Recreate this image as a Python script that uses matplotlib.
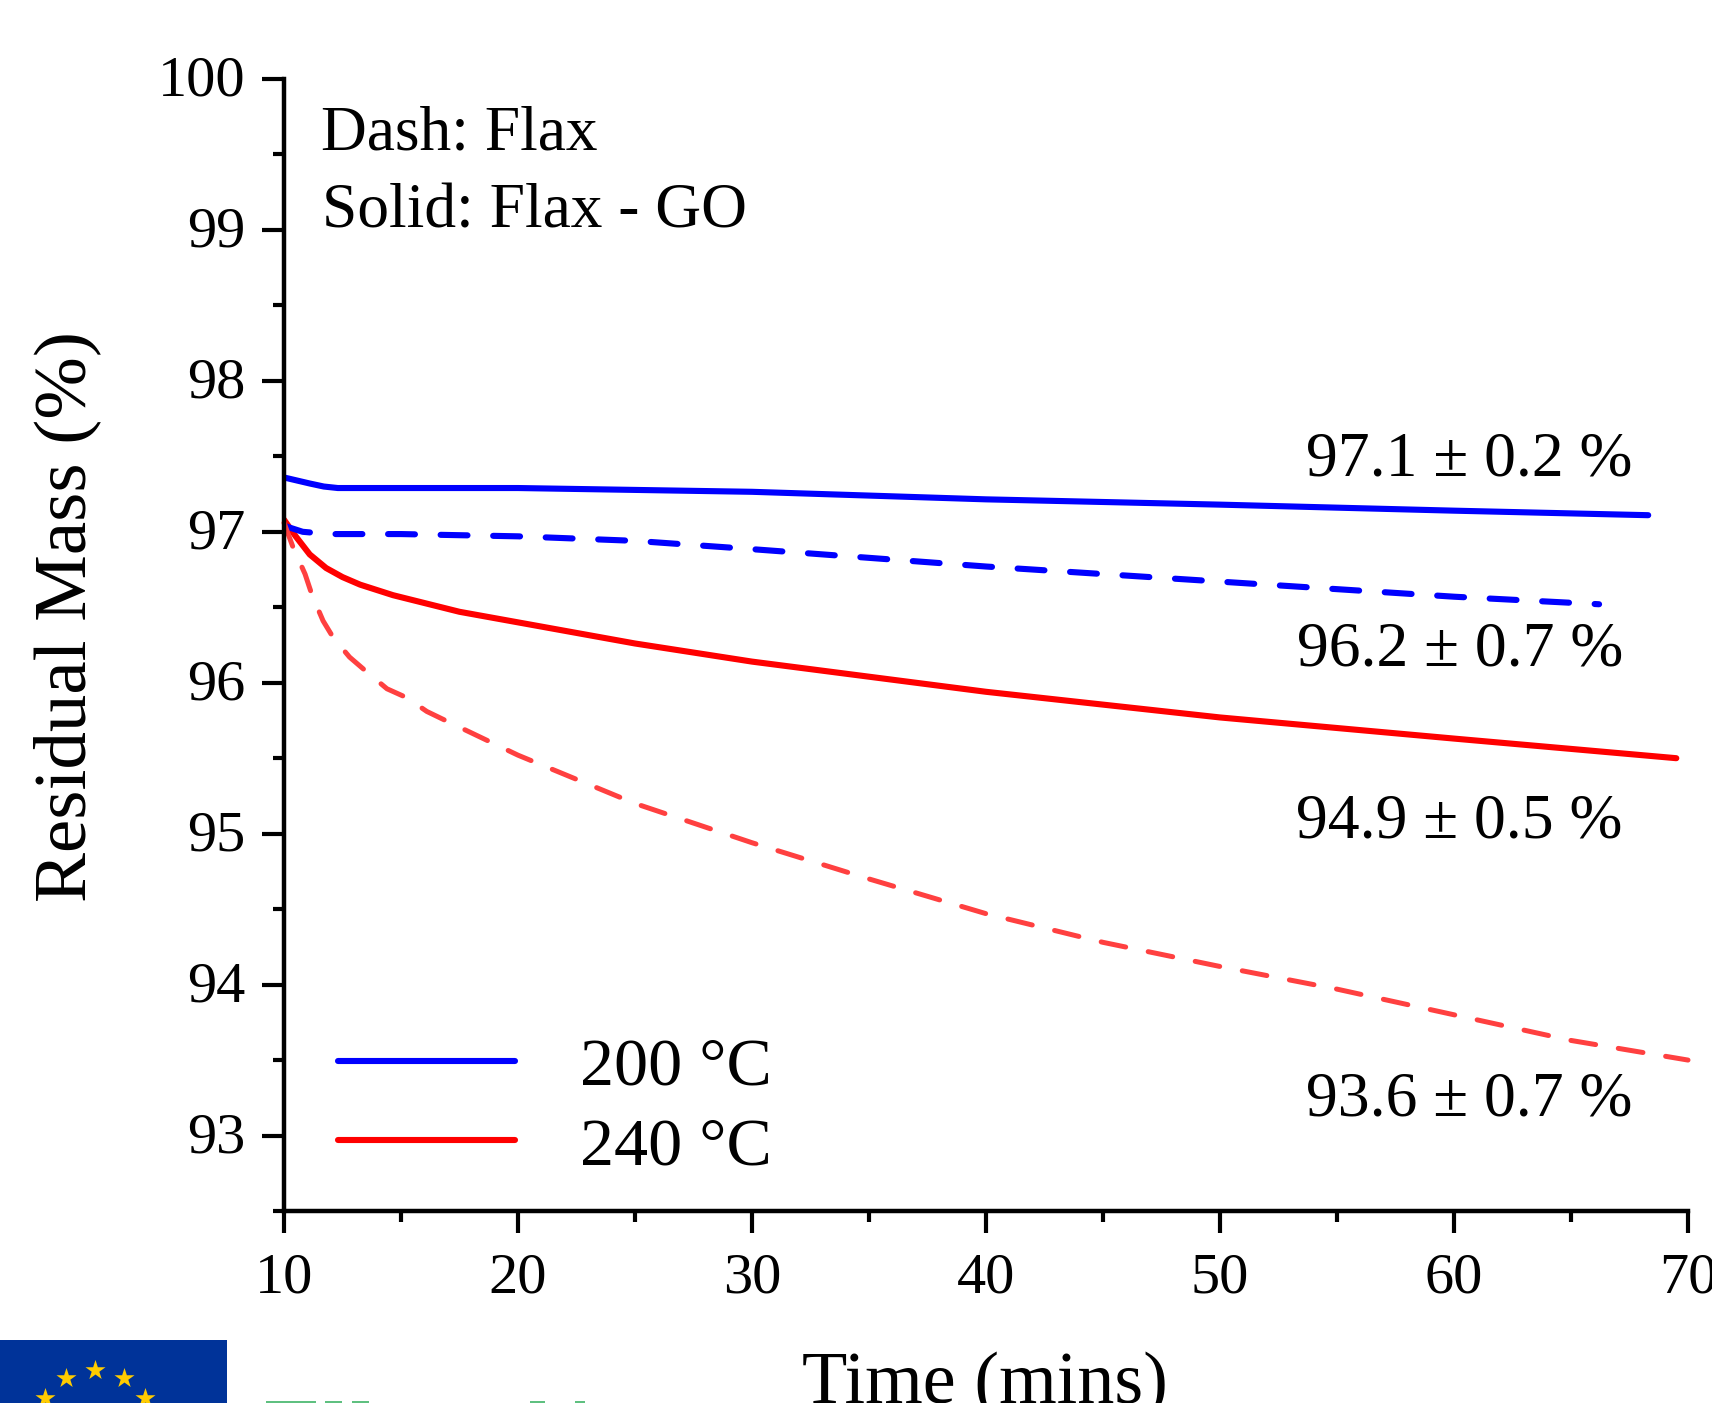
import matplotlib
matplotlib.use("Agg")
import matplotlib.pyplot as plt
from matplotlib.patches import Rectangle
from matplotlib.ticker import MultipleLocator
from matplotlib.transforms import ScaledTranslation

plt.rcParams['font.family'] = ['Liberation Serif', 'DejaVu Serif']

# Values
time_200_go = [10, 11.1, 11.7, 12.3, 13, 20, 30, 40, 50, 60, 68.3]
mass_200_go = [97.36, 97.32, 97.30, 97.29, 97.29, 97.29, 97.265, 97.215, 97.18, 97.14, 97.11]

time_200_flax = [10, 10.8, 11.9, 15, 20, 25, 30, 40, 50, 60, 66.2]
mass_200_flax = [97.04, 97.0, 96.985, 96.985, 96.97, 96.94, 96.885, 96.77, 96.67, 96.57, 96.52]

time_240_go = [10, 10.5, 11.1, 11.8, 12.5, 13.25, 14.66, 17.5, 20, 25, 30, 40, 50, 60, 69.5]
mass_240_go = [97.08, 96.97, 96.85, 96.76, 96.70, 96.65, 96.58, 96.47, 96.40, 96.26, 96.14, 95.94, 95.77, 95.63, 95.50]

time_240_flax = [10, 10.38, 10.9, 11.2, 11.67, 12.1, 12.8, 13.55, 14.4, 15.26, 16.1, 16.9, 20, 25, 30, 35, 40, 45, 50, 55, 60, 65, 70]
mass_240_flax = [97.06, 96.90, 96.72, 96.58, 96.41, 96.30, 96.17, 96.07, 95.96, 95.90, 95.81, 95.75, 95.52, 95.2, 94.94, 94.7, 94.47, 94.28, 94.12, 93.97, 93.8, 93.63, 93.5]

x_ticks = [10, 20, 30, 40, 50, 60, 70]
y_ticks = [93, 94, 95, 96, 97, 98, 99, 100]

W, H = 1712, 1403
fig = plt.figure(figsize=(W / 100, H / 100), dpi=100)

# Logo and labels are placed in pixel coordinates on a full-figure overlay
over = fig.add_axes([0, 0, 1, 1])
over.set_xlim(0, W)
over.set_ylim(H, 0)
over.axis("off")

ax = fig.add_axes([284 / W, 1 - 1211 / H, (1688 - 284) / W, (1211 - 79) / H])
ax.patch.set_alpha(0)

ax.plot(time_200_go, mass_200_go, color="#0000ff", lw=4.4, label="200 °C", solid_capstyle="round")
ax.plot(time_240_go, mass_240_go, color="#ff0000", lw=4.4, label="240 °C", solid_capstyle="round")
ax.plot(time_200_flax, mass_200_flax, color="#0000ff", lw=4.4, dashes=(4.4, 4.2), dash_capstyle="round")
ax.plot(time_240_flax, mass_240_flax, color="#ff4040", lw=3.6, dashes=(5, 4.6), dash_capstyle="round", clip_on=False)

ax.set_xlim(10, 70)
ax.set_ylim(92.5, 100)
ax.set_xticks(x_ticks)
ax.set_yticks(y_ticks)
ax.xaxis.set_minor_locator(MultipleLocator(5))
ax.yaxis.set_minor_locator(MultipleLocator(0.5))
ax.spines["top"].set_visible(False)
ax.spines["right"].set_visible(False)
ax.spines["left"].set_linewidth(3.2)
ax.spines["bottom"].set_linewidth(3.2)
ax.tick_params(axis="both", which="major", length=16, width=3, labelsize=42)
ax.tick_params(axis="both", which="minor", length=8, width=3)
ax.tick_params(axis="x", which="major", pad=14)
ax.tick_params(axis="y", which="major", pad=11.5)
for lab in ax.get_yticklabels():
    lab.set_transform(lab.get_transform() + ScaledTranslation(0, 2.2 / 72, fig.dpi_scale_trans))

ax.legend(loc="lower left", bbox_to_anchor=(0.0385, 0.029), frameon=False, fontsize=49,
          handlelength=2.6, handletextpad=0.95, labelspacing=0.26, borderpad=0, borderaxespad=0)

over.text(985, 1403, "Time (mins)", fontsize=53.5, ha="center", va="baseline")
over.text(101, 617, "Residual Mass (%)", fontsize=54, rotation=90, ha="right", va="center")
over.text(321, 150, "Dash: Flax", fontsize=45.7, va="baseline")
over.text(322, 228, "Solid: Flax - GO", fontsize=45.7, va="baseline")
over.text(1306, 476, "97.1 ± 0.2 %", fontsize=45.8, va="baseline")
over.text(1297, 666, "96.2 ± 0.7 %", fontsize=45.8, va="baseline")
over.text(1296, 838, "94.9 ± 0.5 %", fontsize=45.8, va="baseline")
over.text(1306, 1116, "93.6 ± 0.7 %", fontsize=45.8, va="baseline")

# EU flag corner and the cut-off green logo text at the bottom edge
over.add_patch(Rectangle((0, 1340), 227, 63, color="#003399", lw=0))
over.scatter([95, 66, 124, 45, 145], [1370, 1378, 1378, 1398, 1398], marker="*", s=230, color="#ffcc00", lw=0)
for x0, x1 in [(266, 316), (325, 342), (352, 369), (530, 545), (575, 585)]:
    over.add_patch(Rectangle((x0, 1401), x1 - x0, 2, color="#5fc080", lw=0))

fig.savefig("out.png", dpi=100)
